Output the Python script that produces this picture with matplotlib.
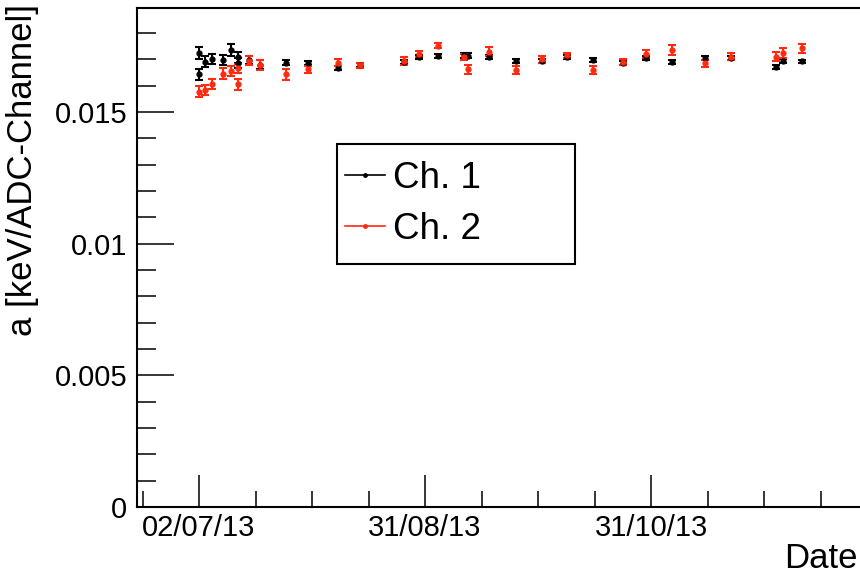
import numpy as np
import pandas as pd
import matplotlib
matplotlib.use('Agg')
import matplotlib.pyplot as plt
import matplotlib.dates as mdates
from matplotlib.lines import Line2D
from matplotlib.patches import Rectangle
from matplotlib.ticker import FixedLocator, MultipleLocator, FuncFormatter

plt.rcParams['font.family'] = ['Liberation Sans', 'DejaVu Sans']

# Datos del canal 1 (fecha, valor, error)
ch1_fechas = ['2013-07-02', '2013-07-02', '2013-07-03 14:00', '2013-07-05 13:00', '2013-07-08 10:00',
              '2013-07-10 12:00', '2013-07-12 11:00', '2013-07-12 11:00', '2013-07-15 10:00', '2013-07-18 10:00',
              '2013-07-25 07:00', '2013-07-31 07:00', '2013-08-08 02:00', '2013-08-14 02:00', '2013-08-26',
              '2013-08-30', '2013-09-04 02:00', '2013-09-10 22:00', '2013-09-12 02:00', '2013-09-17 17:00',
              '2013-09-24 19:00', '2013-10-01 17:00', '2013-10-08 14:00', '2013-10-15 14:00', '2013-10-23 14:00',
              '2013-10-29 14:00', '2013-11-05 12:00', '2013-11-14 12:00', '2013-11-21 07:00', '2013-12-03 12:00',
              '2013-12-05 07:00', '2013-12-10 07:00']
ch1_valores = [0.01723, 0.01643, 0.01691, 0.01701, 0.01697, 0.01735, 0.01708, 0.01686, 0.01697, 0.01680,
               0.01687, 0.01685, 0.01666, 0.01678, 0.01691, 0.01708, 0.01714, 0.01716, 0.01714, 0.01708,
               0.01695, 0.01695, 0.01708, 0.01697, 0.01686, 0.01704, 0.01691, 0.01704, 0.01704, 0.01672,
               0.01695, 0.01693]
ch1_errores = [0.00022, 0.00022, 0.00020, 0.00020, 0.00020, 0.00022, 0.00020, 0.00020, 0.00015, 0.00016,
               0.00010, 0.00008, 0.00008, 0.00007, 0.00008, 0.00008, 0.00008, 0.00009, 0.00009, 0.00008,
               0.00008, 0.00007, 0.00007, 0.00007, 0.00007, 0.00007, 0.00007, 0.00007, 0.00007, 0.00007,
               0.00007, 0.00006]

# Datos del canal 2
ch2_fechas = ['2013-07-02', '2013-07-03 14:00', '2013-07-05 13:00', '2013-07-08 10:00', '2013-07-10 12:00',
              '2013-07-12 11:00', '2013-07-12 11:00', '2013-07-15 10:00', '2013-07-18 10:00', '2013-07-25 07:00',
              '2013-07-31 07:00', '2013-08-08 02:00', '2013-08-14 02:00', '2013-08-26', '2013-08-30',
              '2013-09-04 02:00', '2013-09-10 22:00', '2013-09-12 02:00', '2013-09-17 17:00', '2013-09-24 19:00',
              '2013-10-01 17:00', '2013-10-08 14:00', '2013-10-15 14:00', '2013-10-23 14:00', '2013-10-29 14:00',
              '2013-11-05 12:00', '2013-11-14 12:00', '2013-11-21 07:00', '2013-12-03 12:00', '2013-12-05 07:00',
              '2013-12-10 07:00']
ch2_valores = [0.01577, 0.01584, 0.01605, 0.01645, 0.01655, 0.01666, 0.01605, 0.01695, 0.01678, 0.01643,
               0.01662, 0.01687, 0.01678, 0.01695, 0.01720, 0.01752, 0.01710, 0.01662, 0.01729, 0.01660,
               0.01700, 0.01716, 0.01660, 0.01689, 0.01720, 0.01735, 0.01685, 0.01710, 0.01710, 0.01725,
               0.01742]
ch2_errores = [0.00020, 0.00019, 0.00019, 0.00021, 0.00020, 0.00018, 0.00020, 0.00018, 0.00018, 0.00020,
               0.00014, 0.00014, 0.00010, 0.00015, 0.00012, 0.00010, 0.00012, 0.00018, 0.00016, 0.00016,
               0.00012, 0.00010, 0.00015, 0.00012, 0.00016, 0.00020, 0.00013, 0.00014, 0.00018, 0.00018,
               0.00017]

# Ejes
fechas_ticks = ['2013-07-02', '2013-08-31 12:00', '2013-10-31']
etiquetas_series = ['Ch. 1', 'Ch. 2']
color_ch2 = '#ff2a10'

fig = plt.figure(figsize=(8.6, 5.75), dpi=100)
ax = fig.add_axes([137 / 860, 68 / 575, (880 - 137) / 860, 499 / 575])

x1 = mdates.date2num(pd.to_datetime(ch1_fechas, format='mixed'))
x2 = mdates.date2num(pd.to_datetime(ch2_fechas, format='mixed'))

ax.errorbar(x1, ch1_valores, yerr=ch1_errores, fmt='o', color='black', markersize=3.5,
            elinewidth=1.5, capsize=3, capthick=1.5)
ax.errorbar(x2, ch2_valores, yerr=ch2_errores, fmt='o', color=color_ch2, markersize=3.5,
            elinewidth=1.5, capsize=3, capthick=1.5)

# Limites y ticks
t0 = mdates.date2num(pd.Timestamp('2013-07-02'))
ax.set_xlim(t0 - 16.6, t0 + 182.3)
ax.set_ylim(0, 0.01895)

ax.xaxis.set_major_locator(FixedLocator(mdates.date2num(pd.to_datetime(fechas_ticks, format='mixed'))))
ax.xaxis.set_major_formatter(mdates.DateFormatter('%d/%m/%y'))
ax.xaxis.set_minor_locator(FixedLocator(t0 - 15.125 + 15.125 * np.arange(0, 14)))
ax.yaxis.set_major_locator(MultipleLocator(0.005))
ax.yaxis.set_minor_locator(MultipleLocator(0.001))
ax.yaxis.set_major_formatter(FuncFormatter(lambda v, _: f'{v:g}'))

ax.tick_params(axis='both', which='both', direction='in', width=1.1, labelsize=21, top=False, right=False)
ax.tick_params(axis='y', which='major', length=26.5, pad=7)
ax.tick_params(axis='y', which='minor', length=13.5)
ax.tick_params(axis='x', which='major', length=23, pad=5)
ax.tick_params(axis='x', which='minor', length=11.5)

for lado in ['left', 'bottom', 'top']:
    ax.spines[lado].set_linewidth(1.5)
ax.spines['right'].set_visible(False)

# Titulos de los ejes
fig.text(23 / 860, 1 - 4 / 575, 'a [keV/ADC-Channel]', rotation=90, ha='center', va='top', fontsize=25)
fig.text(858 / 860, 1 - 559 / 575, 'Date', ha='right', va='center', fontsize=25)

# Leyenda con marco fijo
fig.patches.append(Rectangle((337 / 860, 1 - 264 / 575), 238 / 860, 120 / 575, transform=fig.transFigure,
                             facecolor='white', edgecolor='black', linewidth=1.5, zorder=5))
handles = [Line2D([], [], color='black', marker='o', markersize=2.5, linewidth=1.2),
           Line2D([], [], color=color_ch2, marker='o', markersize=2.5, linewidth=1.2)]
leg = fig.legend(handles, etiquetas_series, loc='center left', bbox_to_anchor=(345 / 860, 1 - 204 / 575),
                 frameon=False, fontsize=26.5, handlelength=1.1, handletextpad=0.2, labelspacing=0.45,
                 borderpad=0, borderaxespad=0)
leg.set_zorder(6)

plt.savefig('out.png', dpi=100)
